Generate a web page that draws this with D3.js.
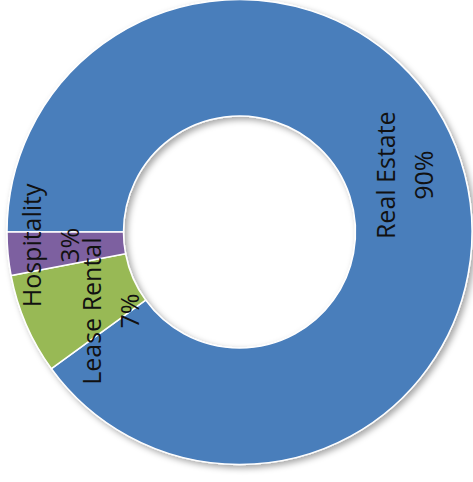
<!DOCTYPE html>
<html>
<head>
<meta charset="utf-8">
<script src="https://cdn.jsdelivr.net/npm/d3@7"></script>
<style>
  html, body { margin: 0; padding: 0; background: #fff; }
  svg { display: block; }
  .lbl { font-family: "Open Sans", sans-serif; font-size: 25px; fill: #111; }
</style>
</head>
<body>
<svg width="473" height="482"></svg>
<script>
// chart data
var categories = ["Real Estate", "Lease Rental", "Hospitality"]
var shares = [90, 7, 3]
var pctLabels = ["90%", "7%", "3%"]
var colors = ["#4a7ebb", "#98b954", "#7d60a0"]

var w = 473, h = 482
var cx = 239.5, cy = 232
var outerR = 232.5, innerR = 116

var svg = d3.select("svg")

// soft drop shadow like the office chart
var defs = svg.append("defs")
var f = defs.append("filter")
            .attr("id", "shadow")
            .attr("x", "-10%").attr("y", "-10%")
            .attr("width", "120%").attr("height", "120%")
f.append("feDropShadow")
 .attr("dx", 3).attr("dy", 3)
 .attr("stdDeviation", 3)
 .attr("flood-color", "#000")
 .attr("flood-opacity", 0.35)

var data = categories.map((c, i) => ({ name: c, value: shares[i], pct: pctLabels[i], color: colors[i] }))

// starts at 9 o'clock, going clockwise
var pie = d3.pie()
            .sort(null)
            .value(d => d.value)
            .startAngle(-Math.PI / 2)
            .endAngle(3 * Math.PI / 2)

var arc = d3.arc().innerRadius(innerR).outerRadius(outerR)
var labelArc = d3.arc().innerRadius(174).outerRadius(174)

var g = svg.append("g")
           .attr("transform", `translate(${cx},${cy})`)

g.append("g")
 .attr("filter", "url(#shadow)")
 .selectAll("path")
 .data(pie(data))
 .enter()
 .append("path")
 .attr("d", arc)
 .attr("fill", d => d.data.color)
 .attr("stroke", "#fff")
 .attr("stroke-width", 1.5)

// excel shoves the small labels around a bit
var nudge = {
  "Real Estate": [0, -3],
  "Lease Rental": [31, 10],
  "Hospitality": [-15, -3]
}

var lbl = g.selectAll(".lbl-g")
           .data(pie(data))
           .enter()
           .append("g")
           .attr("transform", d => {
             var c = labelArc.centroid(d)
             var n = nudge[d.data.name]
             return `translate(${c[0] + n[0]},${c[1] + n[1]}) rotate(-90)`
           })

lbl.append("text")
   .attr("class", "lbl")
   .attr("text-anchor", "middle")
   .attr("y", -10)
   .text(d => d.data.name)

lbl.append("text")
   .attr("class", "lbl")
   .attr("text-anchor", "middle")
   .attr("y", 28)
   .text(d => d.data.pct)
</script>
</body>
</html>
